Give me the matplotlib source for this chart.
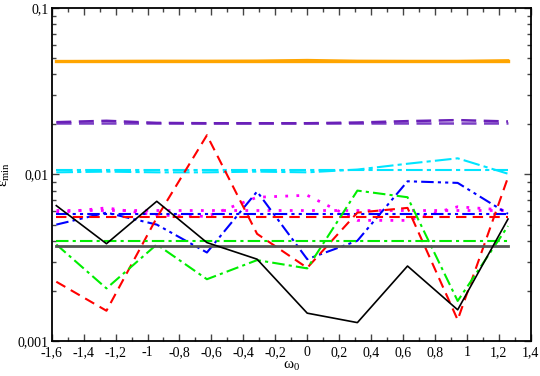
import numpy as np
import matplotlib.pyplot as plt
from matplotlib.ticker import FixedLocator, FuncFormatter, MultipleLocator, LogLocator, NullFormatter

plt.rcParams['font.family'] = ['Liberation Serif', 'DejaVu Serif']

# omega_0 sample points (multiples of pi/10)
omega = [-1.571, -1.257, -0.942, -0.628, -0.314, 0.0, 0.314, 0.628, 0.942, 1.257]

orange_ref = [0.0480] * 10
orange = [0.0478, 0.0479, 0.0480, 0.0480, 0.0481, 0.0486, 0.0480, 0.0479, 0.0479, 0.0484]
purple_ref = [0.0204] * 10
purple = [0.0206, 0.0210, 0.0204, 0.0203, 0.0203, 0.0203, 0.0205, 0.0209, 0.0212, 0.0208]
cyan_ref = [0.0106] * 10
cyan = [0.0103, 0.0104, 0.0103, 0.0103, 0.0104, 0.0103, 0.0107, 0.0116, 0.0125, 0.0101]
magenta_ref = [0.0061] * 10
magenta = [0.0059, 0.0063, 0.0057, 0.0056, 0.0073, 0.0075, 0.0053, 0.0053, 0.0064, 0.0061]
blue_ref = [0.0058] * 10
blue = [0.0050, 0.0059, 0.0050, 0.0034, 0.0079, 0.0031, 0.0040, 0.0091, 0.0089, 0.0058]
red_ref = [0.00558] * 10
red = [0.00227, 0.00152, 0.0055, 0.0172, 0.0044, 0.00275, 0.0059, 0.0063, 0.00134, 0.0096]
green_ref = [0.0040] * 10
green = [0.0038, 0.00207, 0.0038, 0.00235, 0.00306, 0.00273, 0.0080, 0.0073, 0.00174, 0.0049]
gray_ref = [0.00370] * 10
black = [0.0065, 0.00384, 0.0069, 0.0039, 0.0031, 0.00147, 0.00129, 0.00282, 0.00154, 0.0054]

fig = plt.figure(figsize=(5.4, 3.76), dpi=100)
ax = fig.add_axes([0.0957, 0.093, 0.8873, 0.886])

ax.plot(omega, orange_ref, color='#ffa500', lw=2.4)
ax.plot(omega, orange, color='#ffa500', lw=1.8)
ax.plot(omega, purple_ref, color='#7b3fc4', lw=1.8, ls=(0, (6, 3)))
ax.plot(omega, purple, color='#6a20b8', lw=1.8, ls=(0, (6, 3)))
ax.plot(omega, cyan_ref, color='#00e5ff', lw=1.5, ls=(0, (8, 2, 2, 2)))
ax.plot(omega, cyan, color='#00e5ff', lw=1.5, ls=(0, (8, 2, 2, 2)))
ax.plot(omega, magenta_ref, color='#ff00ff', lw=2, ls=(0, (1, 3)))
ax.plot(omega, magenta, color='#ff00ff', lw=2, ls=(0, (1, 3)))
ax.plot(omega, blue_ref, color='#0000ff', lw=1.5, ls=(0, (6, 2, 1.5, 2, 1.5, 2)))
ax.plot(omega, blue, color='#0000ff', lw=1.5, ls=(0, (6, 2, 1.5, 2, 1.5, 2)))
ax.plot(omega, red_ref, color='#ff0000', lw=1.5, ls=(0, (5, 3)))
ax.plot(omega, red, color='#ff0000', lw=1.5, ls=(0, (5, 3)))
ax.plot(omega, green_ref, color='#00ee00', lw=1.5, ls=(0, (6, 2, 1.5, 2)))
ax.plot(omega, green, color='#00ee00', lw=1.5, ls=(0, (6, 2, 1.5, 2)))
ax.plot(omega, gray_ref, color='#555555', lw=2)
ax.plot(omega, black, color='black', lw=1.2)

ax.set_yscale('log')
ax.set_xlim(-1.6, 1.4)
ax.set_ylim(0.001, 0.1)

comma = FuncFormatter(lambda v, p: ('%g' % v).replace('.', ','))
ax.xaxis.set_major_locator(MultipleLocator(0.2))
ax.xaxis.set_minor_locator(MultipleLocator(0.1))
ax.xaxis.set_major_formatter(comma)
ax.yaxis.set_major_locator(FixedLocator([0.001, 0.01, 0.1]))
ax.yaxis.set_minor_locator(LogLocator(base=10, subs=np.arange(2, 10)))
ax.yaxis.set_major_formatter(comma)
ax.yaxis.set_minor_formatter(NullFormatter())

ax.tick_params(which='both', direction='in', top=True, right=True, labelsize=10, color='#444444')
ax.tick_params(which='major', length=5, width=1)
ax.tick_params(which='minor', length=3, width=1)
ax.tick_params(axis='x', pad=3.5)
ax.tick_params(axis='y', pad=2)
for s in ax.spines.values():
    s.set_linewidth(1.3)

ax.set_xlabel(r'$\mathregular{\omega_0}$', fontsize=11, labelpad=0)
ax.set_ylabel(r'$\mathregular{\epsilon_{min}}$', fontsize=11)
ax.yaxis.set_label_coords(-0.083, 0.5)

fig.savefig('out.png', dpi=100)
